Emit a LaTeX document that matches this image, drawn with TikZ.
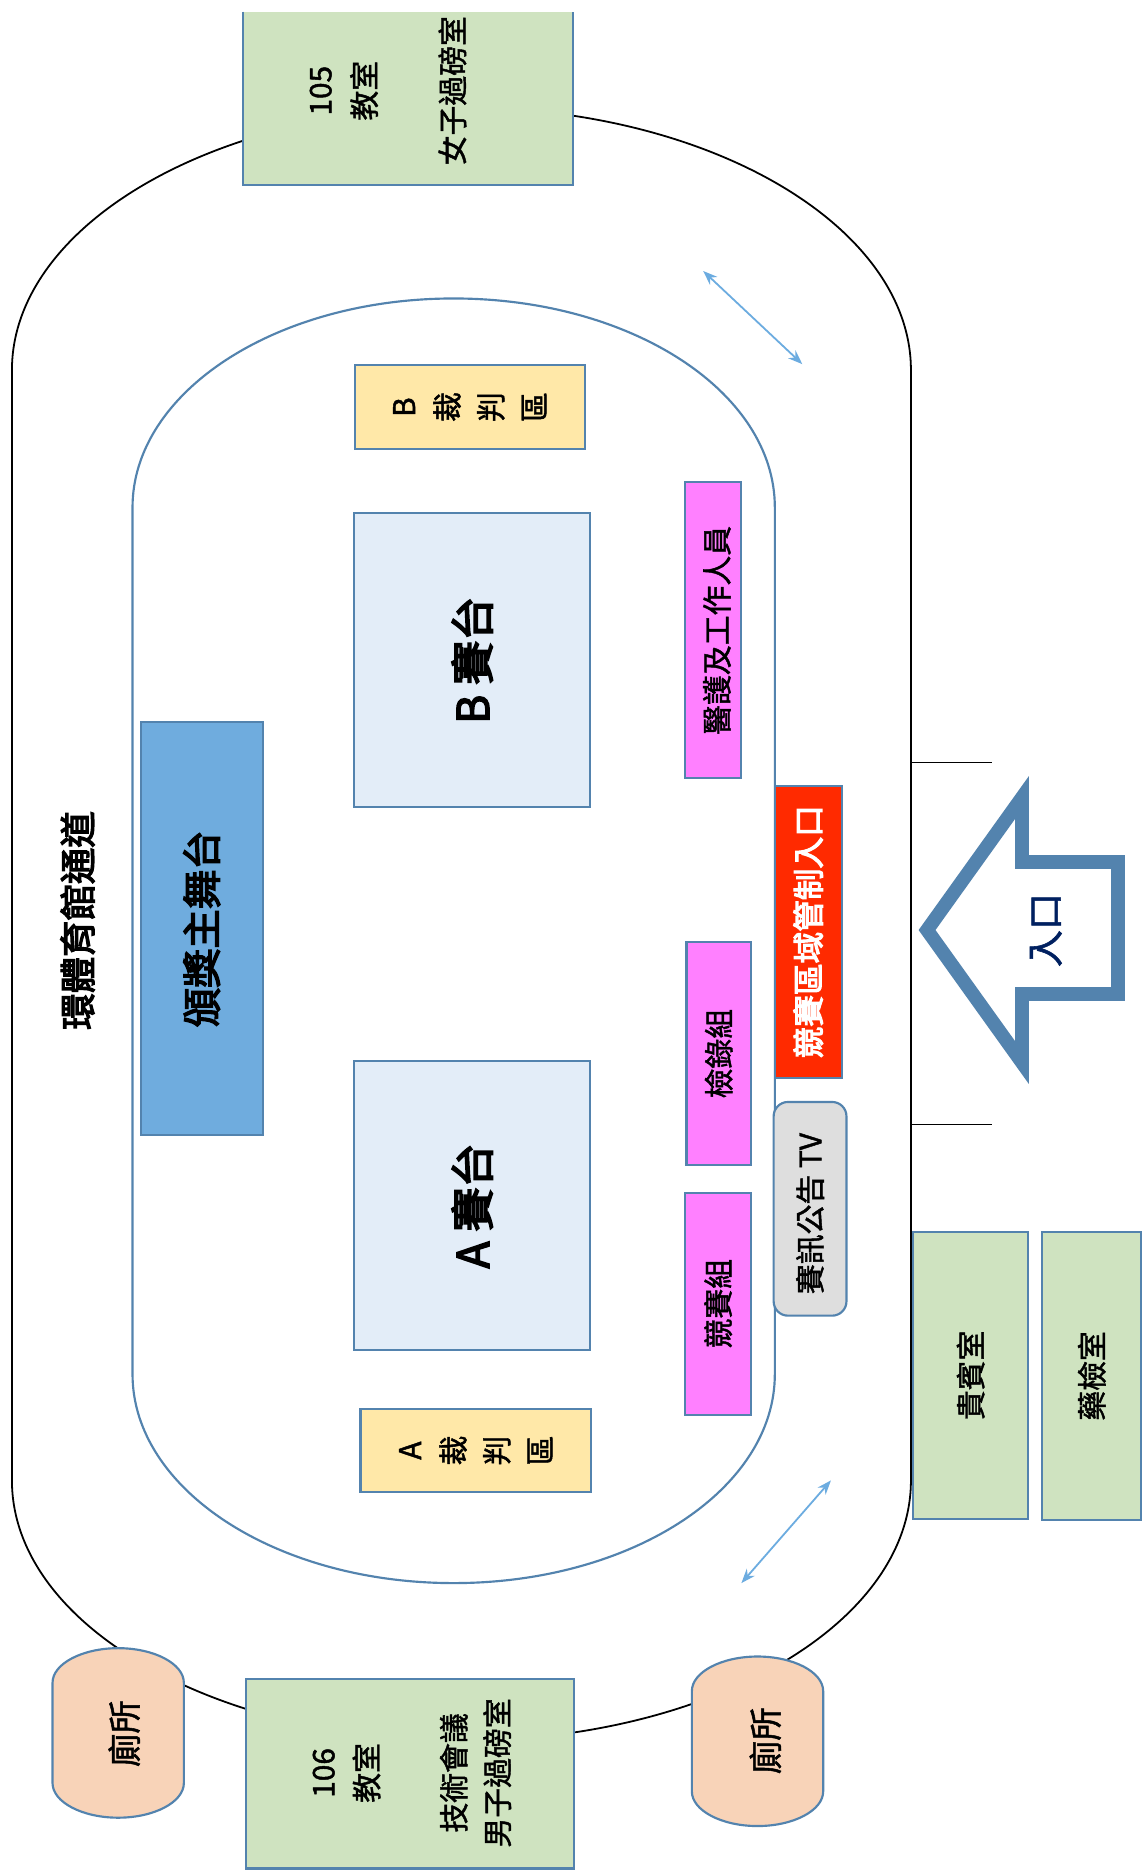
\documentclass[tikz,border=0pt]{standalone}
\usetikzlibrary{arrows.meta}
\usepackage{fontspec}
\setmainfont[FakeBold=1.5]{Noto Sans CJK TC}
\newfontfamily\strongf[FakeBold=3.5]{Noto Sans CJK TC}
\definecolor{edgeblue}{HTML}{5383AE}
\definecolor{roomgreen}{HTML}{CFE3C0}
\definecolor{refyellow}{HTML}{FFE8A8}
\definecolor{ringpale}{HTML}{E3EDF8}
\definecolor{stageblue}{HTML}{6FACDE}
\definecolor{staffpink}{HTML}{FF80FF}
\definecolor{gatered}{HTML}{FF2A00}
\definecolor{tvgrey}{HTML}{DEDEDE}
\definecolor{wcpeach}{HTML}{F8D3B8}
\definecolor{arrowsky}{HTML}{6CACE0}
\definecolor{navytext}{HTML}{002060}
\newcommand{\fs}[2]{\fontsize{#1}{#2}\selectfont}
\newcommand{\canpath}[2]{% centre x, centre y
  \draw[areaedge,fill=wcpeach] (#1-55,#2-42) .. controls (#1-55,#2-58) and (#1-30,#2-71) .. (#1,#2-71)
    .. controls (#1+30,#2-71) and (#1+55,#2-58) .. (#1+55,#2-42) -- (#1+55,#2+42)
    .. controls (#1+55,#2+58) and (#1+30,#2+71) .. (#1,#2+71)
    .. controls (#1-30,#2+71) and (#1-55,#2+58) .. (#1-55,#2+42) -- cycle;}
\tikzset{
  areaedge/.style={draw=edgeblue,line width=1.8pt},
  vbox/.style={areaedge,rotate=90,inner sep=0pt,align=center,text=black},
  vlabel/.style={rotate=90,inner sep=0pt,align=center,text=black},
  room/.style={vbox,fill=roomgreen},
  judge/.style={vbox,fill=refyellow,font=\fs{25}{36.4}},
  ring/.style={vbox,fill=ringpale,font=\strongf\fs{37}{40}},
  staff/.style={vbox,fill=staffpink,font=\fs{25}{28}},
  sidearrow/.style={draw=arrowsky,line width=1.5pt,{Stealth[length=12pt,width=9pt]}-{Stealth[length=12pt,width=9pt]}},
  thinline/.style={draw=black,line width=0.8pt}
}
\begin{document}
\begin{tikzpicture}[x=1pt,y=-1pt]
\useasboundingbox[fill=white] (0,0) rectangle (959,1568);
% outer corridor
\draw[black,line width=1.5pt] (10,310) .. controls (10,189.6) and (178.5,90) .. (386.5,90)
  .. controls (594.5,90) and (763,189.6) .. (763,310) -- (763,1240)
  .. controls (763,1360.4) and (594.5,1458) .. (386.5,1458)
  .. controls (178.5,1458) and (10,1360.4) .. (10,1240) -- cycle;
% inner arena
\draw[areaedge] (111,425) .. controls (111,328.3) and (231.4,250) .. (380,250)
  .. controls (528.6,250) and (649,328.3) .. (649,425) -- (649,1151)
  .. controls (649,1247.7) and (528.6,1326) .. (380,1326)
  .. controls (231.4,1326) and (111,1247.7) .. (111,1151) -- cycle;
% room 105 (cut off at the top)
\node[rotate=90,inner sep=0pt,fill=roomgreen,minimum width=145pt,minimum height=276pt] (r105) at (342,82.5) {};
\draw[areaedge] (r105.north east) -- (r105.north west) -- (r105.south west) -- (r105.south east);
\node[vlabel,font=\fs{25}{37}] (t105) at (325,76) {105\\教室\\\mbox{}\\女子過磅室};
% room 106
\node[room,minimum width=159pt,minimum height=275pt] (r106) at (343.5,1485.5) {};
\node[vlabel,font=\fs{25}{36.5}] (t106) at (345,1485) {106\\教室\\\mbox{}\\技術會議\\男子過磅室};
% referee areas
\node[judge,minimum width=70pt,minimum height=193pt] (bref) at (393.5,341) {B\\裁\\判\\區};
\node[judge,minimum width=70pt,minimum height=193pt] (aref) at (398.5,1215) {A\\裁\\判\\區};
% rings
\node[ring,minimum width=246pt,minimum height=198pt] (bring) at (395.5,553) {B 賽台};
\node[ring,minimum width=242pt,minimum height=198pt] (aring) at (395.5,1010) {A 賽台};
% award stage
\node[vbox,fill=stageblue,font=\strongf\fs{33}{36},minimum width=346pt,minimum height=102pt] (stage) at (169,778) {頒獎主舞台};
% staff boxes
\node[staff,minimum width=248pt,minimum height=47pt] (med) at (597.5,528) {};
\node[vlabel,font=\fs{25}{28}] (medt) at (600.5,528) {醫護及工作人員};
\node[staff,minimum width=187pt,minimum height=54pt] (check) at (602,882.5) {檢錄組};
\node[staff,minimum width=186pt,minimum height=55pt] (comp) at (601.5,1092) {競賽組};
% control gate and tv
\node[vbox,fill=gatered,text=white,font=\strongf\fs{26.5}{30},minimum width=245pt,minimum height=56pt] (gate) at (677,780.5) {競賽區域管制入口};
\node[vbox,fill=tvgrey,rounded corners=12pt,font=\fs{25}{30},minimum width=179pt,minimum height=61pt] (tv) at (678.5,1012.5) {賽訊公告 TV\hspace*{8pt}};
% guest and doping rooms
\node[room,font=\fs{25}{28},minimum width=240pt,minimum height=96pt] (vip) at (813,1152) {貴賓室};
\node[room,font=\fs{25}{28},minimum width=241pt,minimum height=83pt] (dope) at (914.5,1152.5) {藥檢室};
% toilets
\canpath{99}{1451.5}
\node[vlabel,font=\fs{28}{32}] (wc1) at (104,1452) {廁所};
\canpath{634.5}{1458.5}
\node[vlabel,font=\fs{28}{32}] (wc2) at (641,1458) {廁所};
% corridor label
\node[vlabel,font=\strongf\fs{30.5}{34}] (corr) at (65,771) {環體育館通道};
% entrance arrow
\draw[draw=edgeblue,line width=11.5pt,miter limit=10] (776.5,779) -- (856,668) -- (856,722) -- (936.5,722) -- (936.5,832.5) -- (856,832.5) -- (856,890) -- cycle;
\node[vlabel,text=navytext,font=\fs{31}{34}] (entry) at (876,779) {入口};
% entrance lines
\coordinate (l1a) at (763,639); \coordinate (l1b) at (831,639);
\coordinate (l2a) at (763,942); \coordinate (l2b) at (831,942);
\draw[thinline] (l1a) -- (l1b);
\draw[thinline] (l2a) -- (l2b);
% two-way arrows
\coordinate (a1a) at (589,227); \coordinate (a1b) at (672,305);
\coordinate (a2a) at (696,1240); \coordinate (a2b) at (621,1326);
\draw[sidearrow] (a1a) -- (a1b);
\draw[sidearrow] (a2a) -- (a2b);
\end{tikzpicture}
\end{document}
